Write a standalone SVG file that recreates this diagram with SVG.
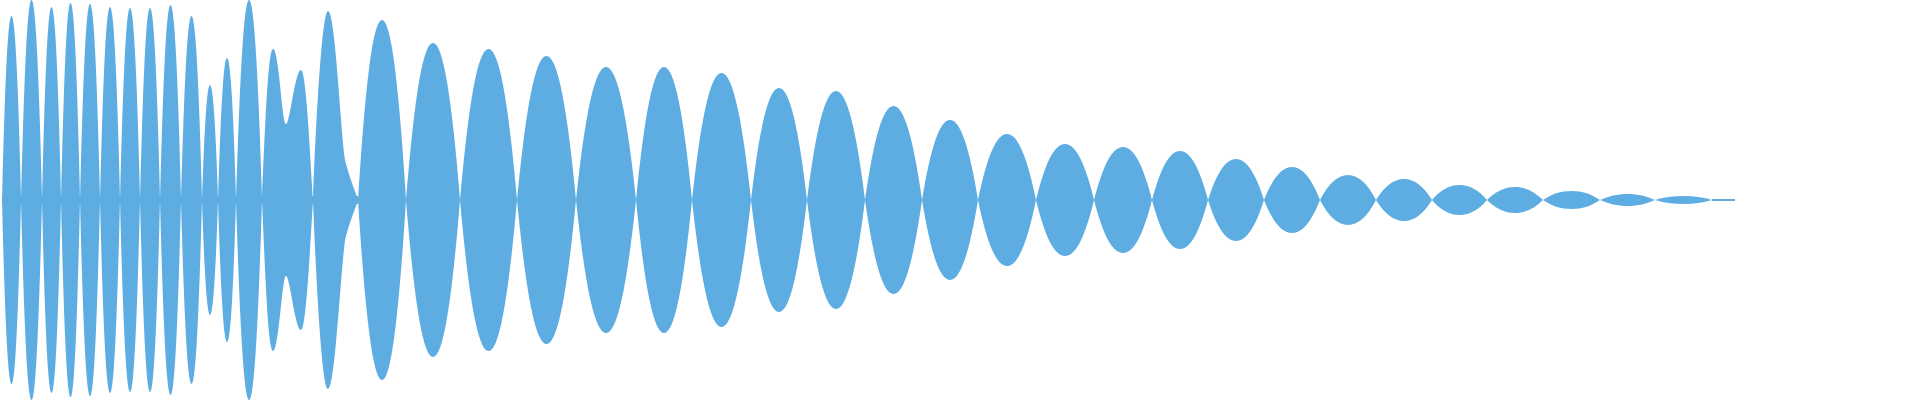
<svg xmlns="http://www.w3.org/2000/svg" xmlns:xlink="http://www.w3.org/1999/xlink" width="1920" height="400" viewBox="0 0 1920 400">
<style>.w{fill:#5DADE2}</style>
<defs><path id="L" d="M0,0 C0.15,-0.64 0.31,-1 0.5,-1 C0.69,-1 0.85,-0.64 1,0 C0.85,0.64 0.69,1 0.5,1 C0.31,1 0.15,0.64 0,0Z"/></defs>
<g id="wave" class="w">
<rect x="2" y="196" width="356" height="8"/>
<use href="#L" transform="translate(2,200) scale(19,184)"/>
<use href="#L" transform="translate(21,200) scale(21,200)"/>
<use href="#L" transform="translate(42,200) scale(19,193)"/>
<use href="#L" transform="translate(61,200) scale(19,197)"/>
<use href="#L" transform="translate(80,200) scale(20,196)"/>
<use href="#L" transform="translate(100,200) scale(20,193)"/>
<use href="#L" transform="translate(120,200) scale(20,192)"/>
<use href="#L" transform="translate(140,200) scale(20,192)"/>
<use href="#L" transform="translate(160,200) scale(21,195)"/>
<use href="#L" transform="translate(181,200) scale(21,184)"/>
<use href="#L" transform="translate(202,200) scale(16,115)"/>
<use href="#L" transform="translate(218,200) scale(18,142)"/>
<use href="#L" transform="translate(236,200) scale(26,200)"/>
<path d="M262,200 C265,130 268,49 273,49 C279,49 282,124 286,124 C290,124 295,70 301,70 C306,70 310,150 313,200 C310,250 306,330 301,330 C295,330 290,276 286,276 C282,276 279,351 273,351 C268,351 265,270 262,200Z"/>
<path d="M313,200 C316,120 322,11 328,11 C335,11 340,120 345,160 C350,180 355,190 358,200 C355,210 350,220 345,240 C340,280 335,389 328,389 C322,389 316,280 313,200Z"/>
<use href="#L" transform="translate(358,200) scale(48,180)"/>
<use href="#L" transform="translate(406,200) scale(54,157)"/>
<use href="#L" transform="translate(460,200) scale(57,151)"/>
<use href="#L" transform="translate(517,200) scale(59,144)"/>
<use href="#L" transform="translate(576,200) scale(60,133)"/>
<use href="#L" transform="translate(636,200) scale(56,133)"/>
<use href="#L" transform="translate(692,200) scale(59,127)"/>
<use href="#L" transform="translate(751,200) scale(56,112)"/>
<use href="#L" transform="translate(807,200) scale(58,109)"/>
<use href="#L" transform="translate(865,200) scale(57,94)"/>
<use href="#L" transform="translate(922,200) scale(56,80)"/>
<use href="#L" transform="translate(978,200) scale(58,66)"/>
<use href="#L" transform="translate(1036,200) scale(58,56)"/>
<use href="#L" transform="translate(1094,200) scale(58,53)"/>
<use href="#L" transform="translate(1152,200) scale(56,49)"/>
<use href="#L" transform="translate(1208,200) scale(56,41)"/>
<use href="#L" transform="translate(1264,200) scale(56,33)"/>
<use href="#L" transform="translate(1320,200) scale(56,25)"/>
<use href="#L" transform="translate(1376,200) scale(56,21)"/>
<use href="#L" transform="translate(1432,200) scale(55,15)"/>
<use href="#L" transform="translate(1487,200) scale(56,13)"/>
<use href="#L" transform="translate(1543,200) scale(57,9)"/>
<use href="#L" transform="translate(1600,200) scale(55,6)"/>
<use href="#L" transform="translate(1655,200) scale(57,4)"/>
<rect x="1712" y="199" width="23" height="2"/>
</g>
</svg>
